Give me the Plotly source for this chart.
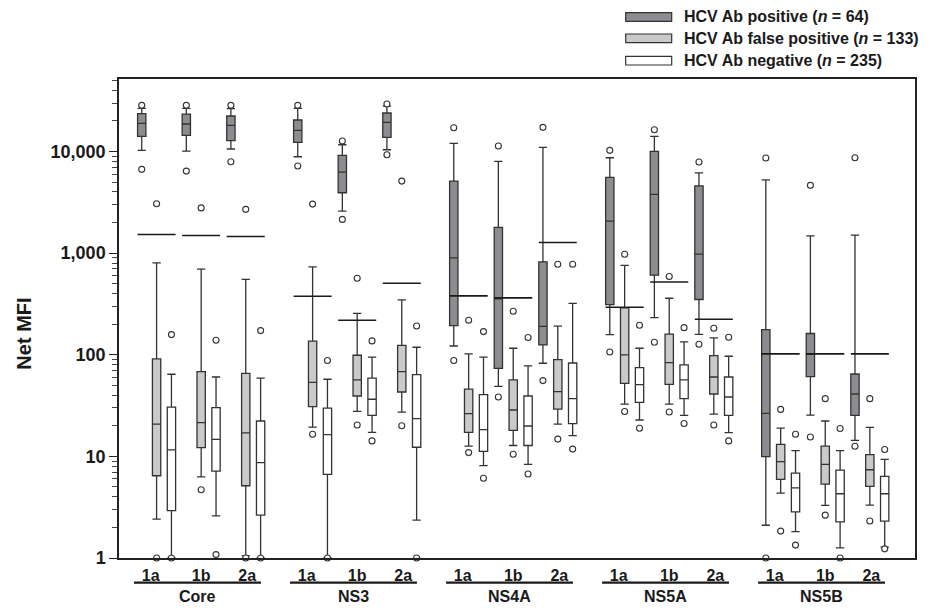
import plotly.graph_objects as go

# ---------------- data ----------------
groups = ["Core", "NS3", "NS4A", "NS5A", "NS5B"]
subtypes = ["1a", "1b", "2a"]
series_names = ["HCV Ab positive (<i>n</i> = 64)",
                "HCV Ab false positive (<i>n</i> = 133)",
                "HCV Ab negative (<i>n</i> = 235)"]

# order: Core 1a,1b,2a, NS3 1a,1b,2a, NS4A ..., NS5A ..., NS5B ...
pos_lf  = [10280, 10110, 10590, 8890, 2590, 10420, 122, 48.9, 82.5, 158, 232, 159, 2.1, 25.5, 14.4]
pos_q1  = [14130, 14450, 12790, 12330, 3930, 13800, 194, 73.6, 125, 312, 607, 350, 9.94, 61, 25.3]
pos_med = [18970, 18660, 18120, 16180, 6280, 19400, 899, 355, 190, 2066, 3790, 977, 26.5, 101, 41.1]
pos_q3  = [23600, 23400, 22370, 20430, 9170, 23950, 5120, 1791, 822, 5570, 10040, 4600, 177, 162, 64.7]
pos_uf  = [26650, 26650, 26400, 26650, 11670, 28050, 12050, 8000, 11000, 8690, 14120, 6180, 5270, 1481, 1504]
pos_out = [[28500, 6680], [28500, 6420], [28500, 7940], [28500, 7200], [12680, 2150], [29400, 9310],
           [17170, 87.7], [11330, 38.4], [17300, 55.7], [10280, 106.6], [16400, 133], [7880, 127],
           [8630, 1], [4650, 15.5], [8690, 12.6]]

fp_lf  = [2.41, 6.3, 1.05, 19.4, 27.7, 27.3, 12.6, 12.8, 20.8, 32.7, 32.7, 26.1, 4.35, 3.29, 3.31]
fp_q1  = [6.45, 12.2, 5.14, 30.9, 39.3, 43, 17.2, 18, 29.2, 52.4, 51.2, 41.1, 5.94, 5.33, 5.06]
fp_med = [20.8, 21.5, 17, 53.6, 56.5, 68.3, 26.3, 28.6, 43.4, 100, 83.8, 60.4, 8.9, 8.34, 7.39]
fp_q3  = [91, 68.3, 65.7, 136, 98.9, 124, 46, 56.5, 89.7, 289, 160, 98.2, 13.1, 12.6, 10.4]
fp_uf  = [802, 696, 551, 733, 255, 347, 102, 116, 191, 757, 360, 146.5, 19, 22.3, 19.3]
fp_out = [[3060, 1], [2790, 4.7], [2700, 1], [3040, 16.5], [567, 20.4], [5120, 20],
          [219, 10.9], [268, 10.5], [779, 14.8], [977, 27.7], [589, 27.3], [182.5, 20.4],
          [29, 1.84], [37, 2.64], [37, 2.31]]

neg_lf  = [1, 2.6, 1, 1, 17.2, 2.36, 8.1, 8.34, 16, 22.8, 25.3, 17.1, 1.82, 1.26, 1.28]
neg_q1  = [2.92, 7.17, 2.64, 6.65, 25.3, 12.3, 11.2, 12.8, 21, 34, 37, 25.3, 2.85, 2.27, 2.31]
neg_med = [11.6, 14.7, 8.67, 16.4, 36.5, 23.5, 18.3, 19.9, 37, 50.9, 56.5, 38.4, 4.91, 4.29, 4.29]
neg_q3  = [30.6, 30.2, 22.3, 29.9, 59, 63.8, 40.5, 39.3, 83, 74.8, 79.4, 60.4, 6.85, 7.33, 6.35]
neg_uf  = [64.3, 60.4, 59, 57.4, 95, 118.6, 95, 77.6, 321, 116, 134, 96.7, 11.4, 11.4, 9.34]
neg_out = [[158, 1], [139, 1.08], [173, 1], [87.7, 1], [137, 14.2], [192, 1],
           [169, 6.1], [147.7, 6.7], [779, 11.8], [195, 18.9], [185, 21.1], [149, 14.2],
           [16.5, 1.34], [18.8, 1], [11.7, 1.23]]

cutoffs = [1528, 1494, 1461, 377, 219, 506, 380, 363, 1275, 294, 521, 224, 102, 102, 102]

ytick_vals = [1, 10, 100, 1000, 10000]
ytick_text = ["1", "10", "100", "1,000", "10,000"]

# ---------------- layout helpers ----------------
GROUP_STEP = 10.5
SUB_STEP = 3
FONT = "Liberation Sans, Arial, sans-serif"
fills = ["#8c8d91", "#c9cacc", "#ffffff"]
edge = "#333333"

def base_pos(i):
    g, s = divmod(i, 3)
    return g * GROUP_STEP + s * SUB_STEP

stats = [
    (pos_lf, pos_q1, pos_med, pos_q3, pos_uf, pos_out),
    (fp_lf, fp_q1, fp_med, fp_q3, fp_uf, fp_out),
    (neg_lf, neg_q1, neg_med, neg_q3, neg_uf, neg_out),
]

fig = go.Figure()
n = len(cutoffs)
for k, (lf, q1, med, q3, uf, outs) in enumerate(stats):
    xs = [base_pos(i) + k for i in range(n)]
    fig.add_trace(go.Box(
        x=xs, lowerfence=lf, q1=q1, median=med, q3=q3, upperfence=uf,
        width=0.56, whiskerwidth=1, fillcolor=fills[k],
        line=dict(color=edge, width=1.3), boxpoints=False,
        name=series_names[k], showlegend=False, hoverinfo="skip"))
    ox, oy = [], []
    for i, vals in enumerate(outs):
        for v in vals:
            ox.append(xs[i]); oy.append(v)
    fig.add_trace(go.Scatter(
        x=ox, y=oy, mode="markers", cliponaxis=False, showlegend=False,
        marker=dict(symbol="circle", size=6, color="white",
                    line=dict(color=edge, width=1.1)), hoverinfo="skip"))

# cutoff lines
cx, cy = [], []
for i, c in enumerate(cutoffs):
    b = base_pos(i)
    cx += [b - 0.28, b + 2.28, None]
    cy += [c, c, None]
fig.add_trace(go.Scatter(x=cx, y=cy, mode="lines", showlegend=False,
                         line=dict(color="#1a1a1a", width=1.6), hoverinfo="skip"))

# x tick labels (subtypes)
tickvals, ticktext = [], []
label_off = [0.6, 4.0, 7.1]
for g in range(len(groups)):
    for s in range(3):
        tickvals.append(g * GROUP_STEP + label_off[s])
        ticktext.append("<b>%s</b>" % subtypes[s])

shapes, annotations = [], []
for g, name in enumerate(groups):
    x0 = g * GROUP_STEP - 0.52
    x1 = g * GROUP_STEP + 8.02
    shapes.append(dict(type="line", xref="x", yref="paper", x0=x0, x1=x1,
                       y0=-0.0516, y1=-0.0516, line=dict(color="#1a1a1a", width=2.2)))
    annotations.append(dict(xref="x", yref="paper", x=(x0 + x1) / 2, y=-0.081,
                            text="<b>%s</b>" % name, showarrow=False,
                            xanchor="center", yanchor="middle",
                            font=dict(family=FONT, size=16, color="#1a1a1a")))

# y title
annotations.append(dict(xref="paper", yref="paper", x=-0.119, y=0.469,
                        text="<b>Net MFI</b>", textangle=-90, showarrow=False,
                        xanchor="center", yanchor="middle",
                        font=dict(family=FONT, size=20, color="#1a1a1a")))

# legend (manual)
leg_rows = [17, 38.3, 60.7]
for k, yp in enumerate(leg_rows):
    yc = (558 - yp) / 479
    h = 4.3 / 479
    shapes.append(dict(type="rect", xref="paper", yref="paper",
                       x0=(625.7 - 119) / 796, x1=(671.7 - 119) / 796,
                       y0=yc - h, y1=yc + h, fillcolor=fills[k],
                       line=dict(color=edge, width=1.2)))
    annotations.append(dict(xref="paper", yref="paper", x=(682 - 119) / 796, y=yc,
                            text="<b>%s</b>" % series_names[k], showarrow=False,
                            xanchor="left", yanchor="middle",
                            font=dict(family=FONT, size=16, color="#1a1a1a")))

minor_vals = [m * 10 ** d for d in range(0, 5) for m in range(2, 10) if m * 10 ** d < 52000]

# page body has an 8px default margin, so the figure is 8px smaller on each axis
fig.update_layout(
    width=931, height=600,
    margin=dict(l=111, r=24, t=71, b=50),
    paper_bgcolor="white", plot_bgcolor="white",
    font=dict(family=FONT, color="#1a1a1a"),
    boxmode="overlay",
    shapes=shapes, annotations=annotations,
    xaxis=dict(range=[-1.53, 52.04], showgrid=False, zeroline=False,
               showline=True, mirror=True, linecolor="#222", linewidth=1.5,
               tickmode="array", tickvals=tickvals, ticktext=ticktext,
               ticks="", tickfont=dict(family=FONT, size=16, color="#1a1a1a"),
               ticklabelstandoff=2),
    yaxis=dict(type="log", range=[0, 4.714], showgrid=False, zeroline=False,
               showline=True, mirror=True, linecolor="#222", linewidth=1.5,
               tickmode="array", tickvals=ytick_vals,
               ticktext=["<b>%s</b>" % t for t in ytick_text],
               ticks="outside", ticklen=8, tickwidth=1.3, tickcolor="#222",
               tickfont=dict(family=FONT, size=18, color="#1a1a1a"),
               minor=dict(tickmode="array", tickvals=minor_vals, ticks="outside",
                          ticklen=5, tickwidth=1, tickcolor="#444")),
)

fig.write_html("out.html")
